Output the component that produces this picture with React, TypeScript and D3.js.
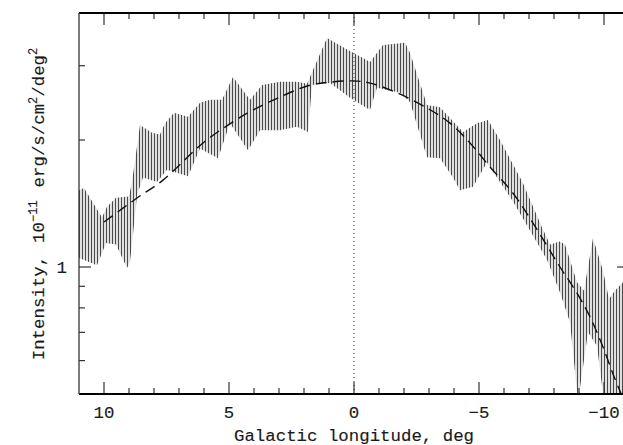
import React from "react";
import * as d3 from "d3";

// Upper edge of the measured band (galactic longitude in deg, intensity)
const upperLon = [11.0, 10.8, 10.08, 9.88, 9.52, 9.0, 8.88, 8.56, 8.08, 7.76, 7.56, 7.2, 6.64, 6.16, 5.76, 5.28, 4.84, 4.16, 3.68, 2.96, 2.28, 1.88, 1.08, 0.08, -0.36, -0.64, -1.16, -2.04, -2.24, -2.92, -3.44, -4.36, -4.92, -5.36, -5.84, -6.76, -7.52, -7.84, -8.24, -8.44, -8.92, -9.2, -9.56, -9.96, -10.2, -10.44, -10.76, -11.0];
const upperVal = [1.52, 1.54, 1.31, 1.39, 1.46, 1.47, 1.59, 2.17, 2.08, 2.06, 2.19, 2.32, 2.27, 2.45, 2.49, 2.49, 2.82, 2.49, 2.7, 2.75, 2.75, 2.72, 3.49, 3.23, 3.13, 3.06, 3.36, 3.4, 3.22, 2.42, 2.39, 2.09, 2.19, 2.23, 2.0, 1.58, 1.24, 1.13, 1.15, 1.13, 0.92, 0.88, 1.17, 0.98, 0.84, 0.88, 0.92, 0.93];

// Lower edge of the measured band
const lowerLon = [11.0, 10.28, 9.92, 9.52, 9.08, 8.96, 8.8, 8.68, 8.44, 7.88, 7.48, 6.64, 6.16, 5.44, 4.96, 4.24, 3.76, 2.96, 2.28, 1.84, 1.68, 0.96, 0.16, -0.52, -0.64, -0.92, -1.84, -2.24, -2.92, -3.44, -3.96, -4.24, -4.76, -5.32, -6.36, -7.04, -7.72, -8.24, -8.64, -8.96, -9.36, -9.72, -10.0, -11.0];
const lowerVal = [1.05, 1.01, 1.14, 1.13, 0.995, 1.03, 1.26, 1.48, 1.63, 1.59, 1.7, 1.64, 1.91, 1.81, 2.19, 1.89, 2.11, 2.11, 2.15, 2.09, 2.7, 2.73, 2.52, 2.38, 2.36, 2.66, 2.59, 2.46, 1.82, 1.81, 1.63, 1.52, 1.55, 1.77, 1.43, 1.22, 1.04, 0.87, 0.74, 0.48, 0.7, 0.65, 0.48, 0.48];

// Model curve (dashed)
const modelLon = [10.0, 8.68, 7.64, 6.04, 4.84, 4.04, 2.96, 1.76, 0.96, 0.04, -0.64, -1.76, -2.92, -3.84, -4.64, -5.44, -6.36, -7.16, -8.24, -8.92, -9.44, -9.96, -10.4, -10.75];
const modelVal = [1.278, 1.457, 1.607, 1.968, 2.208, 2.355, 2.529, 2.698, 2.742, 2.761, 2.729, 2.582, 2.382, 2.193, 1.968, 1.726, 1.496, 1.271, 1.0, 0.867, 0.762, 0.646, 0.55, 0.49];

const xTickValues = [10, 5, 0, -5, -10];
const xTickLabels = ["10", "5", "0", "\u22125", "\u221210"];
const xMinorTicks = [9, 8, 7, 6, 4, 3, 2, 1, -1, -2, -3, -4, -6, -7, -8, -9];
const yMajorTicks = [1];
const yMajorLabels = ["1"];
const yMinorTicks = [0.6, 0.7, 0.8, 0.9, 2, 3];

const FONT = "'Liberation Mono', 'DejaVu Sans Mono', monospace";
const FS = 17.4;

export default function App() {
  const W = 623;
  const H = 445;
  const left = 79, right = 629, top = 13, bottom = 394;
  const x = d3.scaleLinear().domain([11, -11]).range([left, right]);
  const y = d3.scaleLog().domain([0.5, 4]).range([bottom, top]);

  const upperPts: [number, number][] = upperLon.map((l, i) => [x(l), y(upperVal[i])]);
  const lowerPts: [number, number][] = lowerLon.map((l, i) => [x(l), y(lowerVal[i])]);
  const bandPath = "M" + upperPts.concat(lowerPts.slice().reverse()).map((p) => p.join(",")).join("L") + "Z";

  const modelLine = d3
    .line<number>()
    .x((d, i) => x(modelLon[i]))
    .y((d) => y(d))
    .curve(d3.curveCatmullRom.alpha(0.5));
  const modelPath = modelLine(modelVal) || "";

  const textStyle = { fontFamily: FONT, fontSize: FS, fill: "#1a1a1a", stroke: "#1a1a1a", strokeWidth: 0.15 };

  return (
    <svg
      width={W}
      height={H}
      style={{ position: "absolute", left: 0, top: 0, background: "#fff" }}
    >
      <defs>
        <clipPath id="plotClip">
          <rect x={left} y={top} width={right - left} height={bottom - top} />
        </clipPath>
        <pattern id="hatch" patternUnits="userSpaceOnUse" width={3} height={10}>
          <line x1={1.5} y1={0} x2={1.5} y2={10} stroke="#4a4a4a" strokeWidth={1.35} />
        </pattern>
      </defs>
      <rect x={0} y={0} width={W} height={H} fill="#fff" />
      <g clipPath="url(#plotClip)">
        <path d={bandPath} fill="url(#hatch)" stroke="none" />
        <path d={modelPath} fill="none" stroke="#111" strokeWidth={1.4} strokeDasharray="11,6" />
        <line x1={x(0)} x2={x(0)} y1={top} y2={bottom} stroke="#333" strokeWidth={1} strokeDasharray="1,3" />
      </g>

      {/* x ticks top & bottom */}
      {xTickValues.map((v) => (
        <g key={"xM" + v}>
          <line x1={x(v)} x2={x(v)} y1={bottom} y2={bottom - 12} stroke="#333" strokeWidth={1.2} />
          <line x1={x(v)} x2={x(v)} y1={top} y2={top + 12} stroke="#333" strokeWidth={1.2} />
        </g>
      ))}
      {xMinorTicks.map((v) => (
        <g key={"xm" + v}>
          <line x1={x(v)} x2={x(v)} y1={bottom} y2={bottom - 6} stroke="#333" strokeWidth={1.2} />
          <line x1={x(v)} x2={x(v)} y1={top} y2={top + 6} stroke="#333" strokeWidth={1.2} />
        </g>
      ))}
      {/* y ticks left & right */}
      {yMajorTicks.map((v) => (
        <g key={"yM" + v}>
          <line x1={left} x2={left + 12} y1={y(v)} y2={y(v)} stroke="#333" strokeWidth={1.2} />
          <line x1={right} x2={right - 12} y1={y(v)} y2={y(v)} stroke="#333" strokeWidth={1.2} />
        </g>
      ))}
      {yMinorTicks.map((v) => (
        <g key={"ym" + v}>
          <line x1={left} x2={left + 6} y1={y(v)} y2={y(v)} stroke="#333" strokeWidth={1.2} />
          <line x1={right} x2={right - 6} y1={y(v)} y2={y(v)} stroke="#333" strokeWidth={1.2} />
        </g>
      ))}

      {/* frame */}
      <line x1={left} x2={right} y1={top} y2={top} stroke="#000" strokeWidth={2} />
      <line x1={left} x2={right} y1={bottom} y2={bottom} stroke="#000" strokeWidth={2} />
      <line x1={left} x2={left} y1={top} y2={bottom} stroke="#333" strokeWidth={1.3} />
      <line x1={right} x2={right} y1={top} y2={bottom} stroke="#333" strokeWidth={1.3} />

      {/* tick labels */}
      {xTickValues.map((v, i) => (
        <text key={"xl" + v} x={x(v)} y={418} textAnchor="middle" style={textStyle}>
          {xTickLabels[i]}
        </text>
      ))}
      {yMajorTicks.map((v, i) => (
        <text key={"yl" + v} x={67} y={y(v) + 6} textAnchor="end" style={textStyle}>
          {yMajorLabels[i]}
        </text>
      ))}

      {/* axis titles */}
      <text x={354} y={441} textAnchor="middle" style={textStyle}>
        Galactic longitude, deg
      </text>
      <text transform="translate(44,204) rotate(-90)" textAnchor="middle" style={textStyle}>
        Intensity,
        <tspan dx={13}>10</tspan>
        <tspan dy={-7} fontSize={12}>{"\u221211"}</tspan>
        <tspan dy={7} dx={13}>erg/s/cm</tspan>
        <tspan dy={-7} fontSize={12}>2</tspan>
        <tspan dy={7}>/deg</tspan>
        <tspan dy={-7} fontSize={12}>2</tspan>
      </text>
    </svg>
  );
}
